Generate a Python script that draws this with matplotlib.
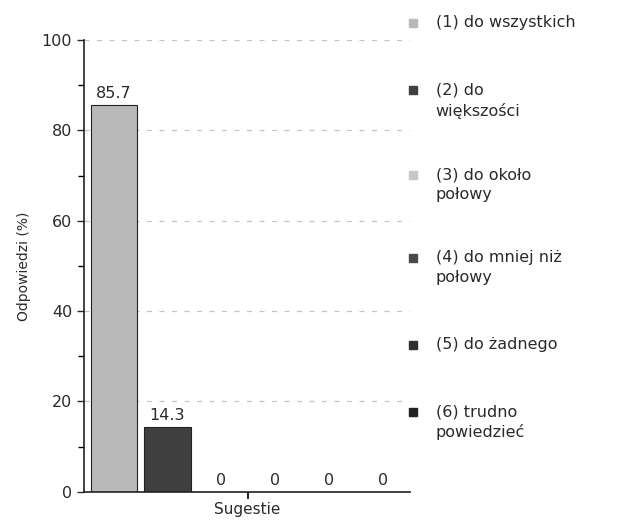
import matplotlib
matplotlib.use("Agg")
import matplotlib.pyplot as plt
from matplotlib.patches import Rectangle

# Data
categories = ["(1) do wszystkich", "(2) do\nwiększości", "(3) do około\npołowy",
              "(4) do mniej niż\npołowy", "(5) do żadnego", "(6) trudno\npowiedzieć"]
values = [85.7, 14.3, 0, 0, 0, 0]
colors = ["#b9b9b9", "#3f3f3f", "#c8c8c8", "#4a4a4a", "#303030", "#222222"]
yticks = [0, 20, 40, 60, 80, 100]

plt.rcParams["font.family"] = ["DejaVu Sans"]
txt = "#2a2a2a"

fig = plt.figure(figsize=(6.18, 5.21), dpi=100)
ax = fig.add_axes([0.136, 0.056, 0.527, 0.867])

x = list(range(len(values)))
bars = ax.bar(x, values, width=0.86, color=colors, edgecolor="#222222", linewidth=0.8)
ax.bar_label(bars, labels=[f"{v:g}" for v in values], padding=3, fontsize=11.5, color=txt)

ax.set_xlim(-0.55, 5.5)
ax.set_ylim(0, 100)
ax.set_yticks(yticks)
ax.set_yticks([10, 30, 50, 70, 90], minor=True)
ax.set_xticks([2.5])
ax.set_xticklabels([""])
ax.tick_params(axis="y", labelsize=11.5, colors=txt, length=5, width=1)
ax.tick_params(axis="y", which="minor", length=4, width=1)
ax.tick_params(axis="x", length=5, width=1.2)
for s in ["top", "right"]:
    ax.spines[s].set_visible(False)
for s in ["left", "bottom"]:
    ax.spines[s].set_color("#222222")
    ax.spines[s].set_linewidth(1.2)
ax.set_axisbelow(True)
ax.yaxis.grid(True, linestyle=(0, (4, 6)), color="#c4c4c4", linewidth=0.9)
ax.set_xlabel("Sugestie", fontsize=11, color=txt)
ax.xaxis.set_label_coords(0.5, -0.022)
ax.set_ylabel("Odpowiedzi (%)", fontsize=10, color=txt, labelpad=8)

# Legend on the right
legend_y = [0.956, 0.827, 0.664, 0.505, 0.338, 0.209]
for lab, col, yy in zip(categories, colors, legend_y):
    fig.patches.append(Rectangle((0.662, yy - 0.007), 0.012, 0.014, transform=fig.transFigure,
                                 color=col, figure=fig))
    fig.text(0.705, yy + 0.015, lab, fontsize=11.5, va="top", color=txt, linespacing=1.4)

fig.savefig("out.png", dpi=100)
